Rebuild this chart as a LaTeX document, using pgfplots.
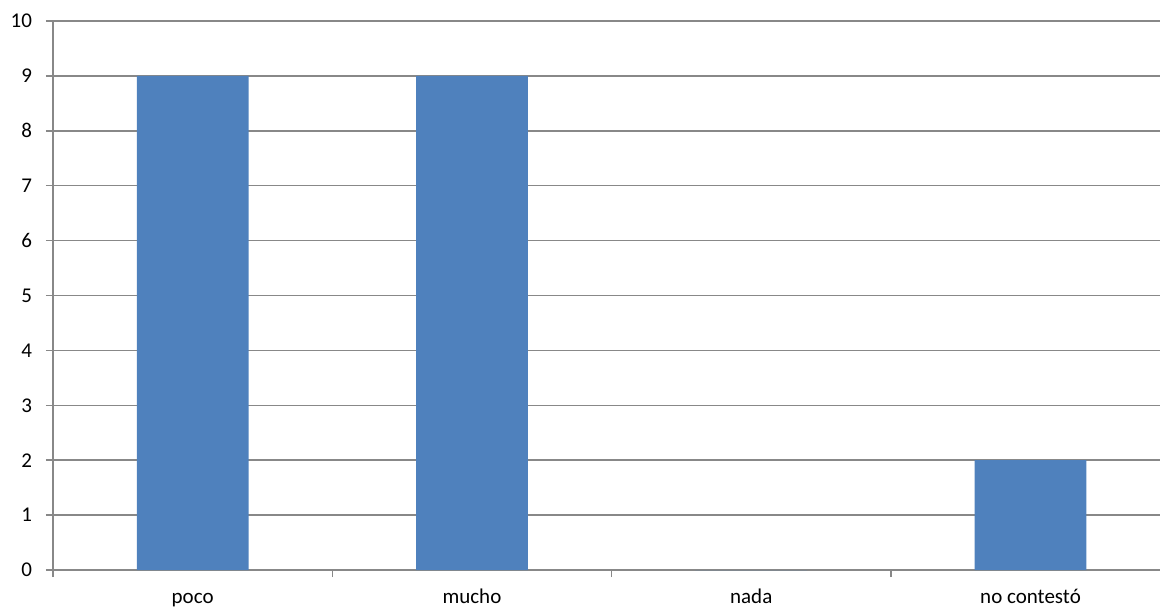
\documentclass[border=0pt]{standalone}
\usepackage{fontspec}
\setmainfont{Carlito}
\usepackage{pgfplots}
\pgfplotsset{compat=1.18}
\definecolor{barblue}{HTML}{4F81BD}
\definecolor{gridgray}{HTML}{888888}
\begin{document}
\begin{tikzpicture}
\begin{axis}[
  scale only axis,
  width=553.5pt, height=274.5pt,
  xmin=-0.5, xmax=3.4635,
  ymin=0, ymax=10,
  ytick={0,1,...,10},
  ymajorgrids=true,
  grid style={gridgray, line width=0.75pt},
  axis x line=bottom, axis y line=left,
  axis line style={gridgray, line width=0.75pt, -},
  tick style={gridgray, line width=0.75pt},
  tick align=outside,
  major tick length=3.5pt,
  xtick={-0.5,0.5,1.5,2.5,3.5},
  xticklabels={},
  extra x ticks={0,1,2,3},
  extra x tick labels={poco,mucho,nada,no contestó},
  extra x tick style={major tick length=0pt, grid=none,
    xticklabel style={anchor=base, yshift=-16.5pt}},
  /pgf/number format/assume math mode=true,
  ticklabel style={font=\fontsize{10.5}{12}\selectfont, text=black},
  yticklabel style={anchor=east, xshift=-3.5pt},
  ybar, bar width=0.4,
]
\addplot[fill=barblue, draw=none] coordinates {(0,9) (1,9) (2,0) (3,2)};
\end{axis}
\pgfresetboundingbox
\path (-26.5pt,-19.5pt) rectangle (553.5pt,285pt);
\end{tikzpicture}
\end{document}
